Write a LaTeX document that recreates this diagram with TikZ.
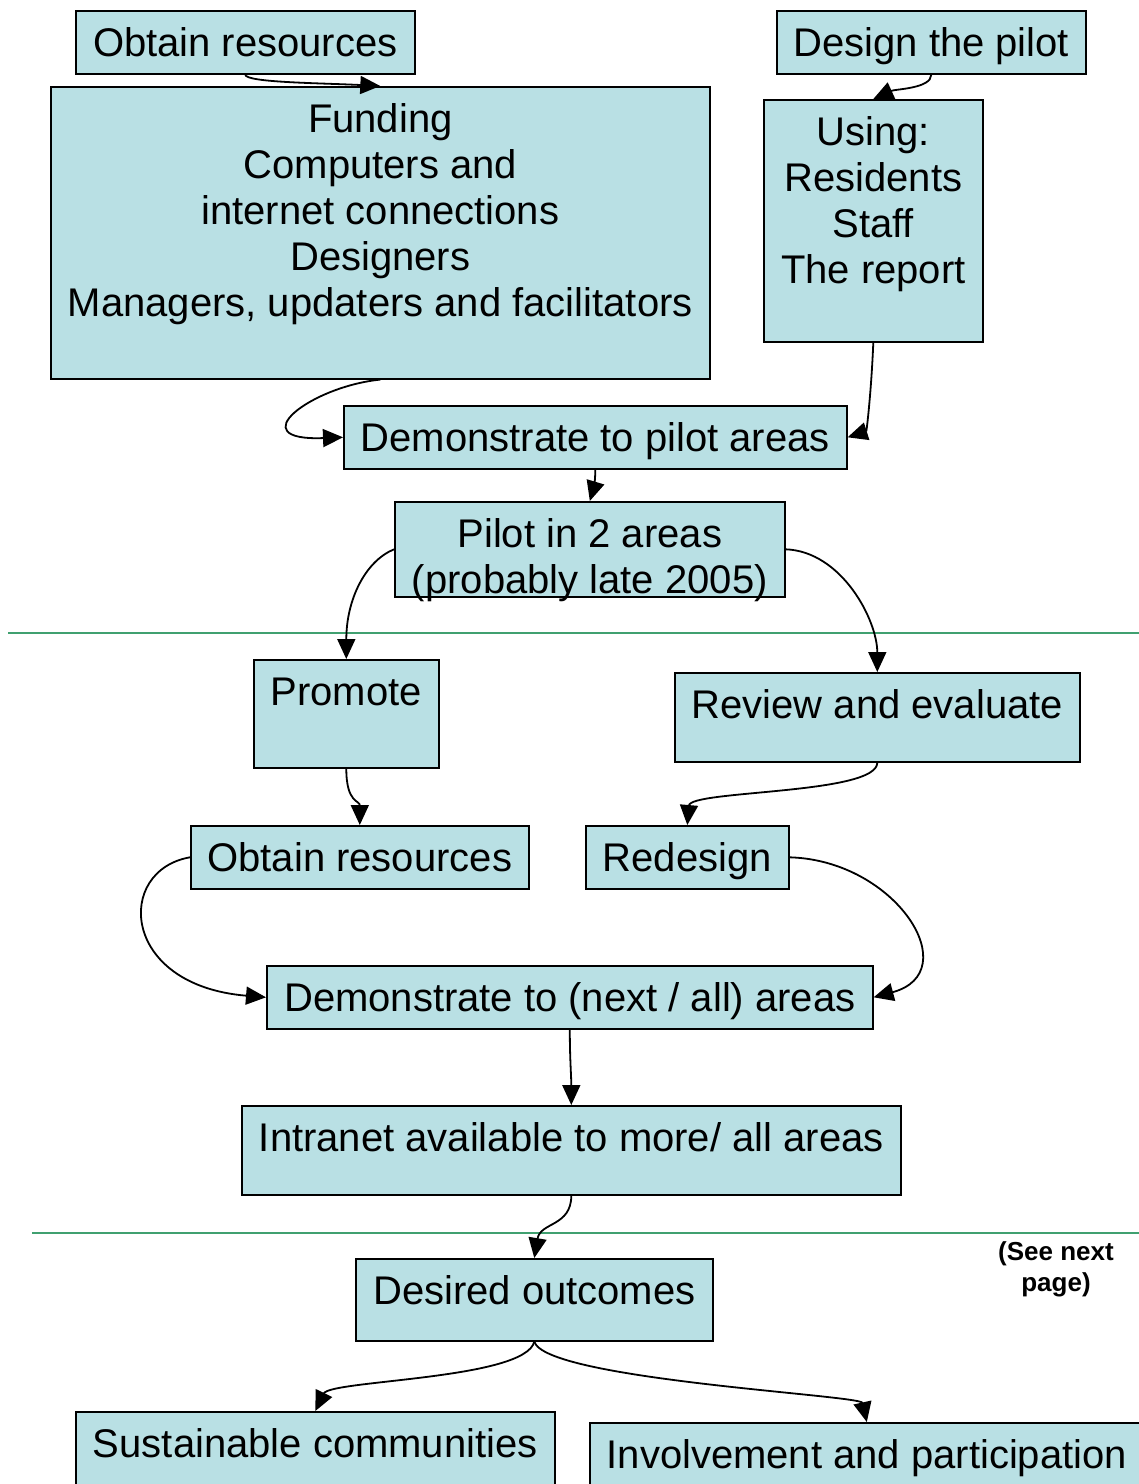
\documentclass[tikz,border=0pt]{standalone}
\usepackage{fontspec}
\setmainfont{Liberation Sans}
\usetikzlibrary{arrows.meta}
\definecolor{boxfill}{RGB}{185,224,228}
\definecolor{rulegreen}{RGB}{64,160,112}

% box with its text set from the top: name, left, top, width, height, text
\newcommand\flowbox[6]{%
  \node[box,anchor=north west] (#1) at (#2,-#3)
    {\parbox[t][#5pt][t]{#4pt}{\centering\rule{0pt}{46pt}#6}};}

\begin{document}
\begin{tikzpicture}[x=1pt,y=1pt,
  box/.style={draw=black,line width=1.6pt,fill=boxfill,inner sep=0pt,
    font=\fontsize{40}{46}\selectfont},
  link/.style={line width=1.8pt,-{Triangle[length=20pt,width=18pt]}},
  divider/.style={rulegreen,line width=2.2pt}]
\useasboundingbox (0,0) rectangle (1139,-1484);

% section dividers
\draw[divider] (8,-633) -- (1139,-633);
\draw[divider] (32,-1233) -- (1139,-1233);

% boxes
\flowbox{or1}{75}{10}{339}{63}{Obtain resources}
\flowbox{dp}{776}{10}{309}{63}{Design the pilot}
\flowbox{fund}{50}{86}{659}{292}{Funding\\Computers and\\internet connections\\Designers\\Managers, updaters and facilitators}
\flowbox{using}{763}{99}{219}{242}{Using:\\Residents\\Staff\\The report}
\flowbox{demoa}{343}{405}{503}{63}{Demonstrate to pilot areas}
\flowbox{pilot}{394}{501}{390}{95}{Pilot in 2 areas\\(probably late 2005)}
\flowbox{promote}{253}{659}{185}{108}{Promote}
\flowbox{review}{674}{672}{405}{89}{Review and evaluate}
\flowbox{orb}{190}{825}{338}{63}{Obtain resources}
\flowbox{redesign}{585}{825}{203}{63}{Redesign}
\flowbox{demob}{266}{965}{606}{63}{Demonstrate to (next / all) areas}
\flowbox{intranet}{241}{1105}{659}{89}{Intranet available to more/ all areas}
\flowbox{desired}{355}{1258}{357}{82}{Desired outcomes}
\flowbox{sust}{75}{1411}{479}{90}{Sustainable communities}
\flowbox{inv}{589}{1422}{554}{80}{Involvement and participation}

\node[font=\fontsize{26}{31}\selectfont\bfseries,align=center,inner sep=0pt]
  (seenext) at (1056,-1269) {(See next\\page)};

% connectors
\draw[link] (or1.south) .. controls +(0,-8) and +(-60,3) .. (fund.north);
\draw[link] (dp.south) .. controls +(0,-14) and +(22,10) .. (using.north);
\draw[link] (fund.south) .. controls +(-70,-7) and +(-103,-4) .. (demoa.west);
\draw[link] (using.south) .. controls +(-2,-49) and +(19,6) .. (demoa.east);
\draw[link] (demoa.south) .. controls +(0,-15) and +(3,10) .. (pilot.north);
\draw[link] (pilot.west) .. controls +(-29,-12) and +(0,59) .. (promote.north);
\draw[link] (pilot.east) .. controls +(56,-2) and +(0,52) .. (review.north);
\draw[link] (promote.south) .. controls +(0,-35) and +(0,25) .. (orb.north);
\draw[link] (review.south) .. controls +(0,-32) and +(3,35) .. (redesign.north);
\draw[link] (orb.west) .. controls +(-75,-13) and +(-146,12) .. (demob.west);
\draw[link] (redesign.east) .. controls +(107,-3) and +(93,25) .. (demob.east);
\draw[link] (demob.south) .. controls +(0,-30) and +(0,30) .. (intranet.north);
\draw[link] (intranet.south) .. controls +(0,-31) and +(6,36) .. (desired.north);
\draw[link] (desired.south) .. controls +(-9,-38) and +(15,31) .. (sust.north);
\draw[link] (desired.south) .. controls +(11,-38) and +(-6,27) .. (inv.north);
\end{tikzpicture}
\end{document}
